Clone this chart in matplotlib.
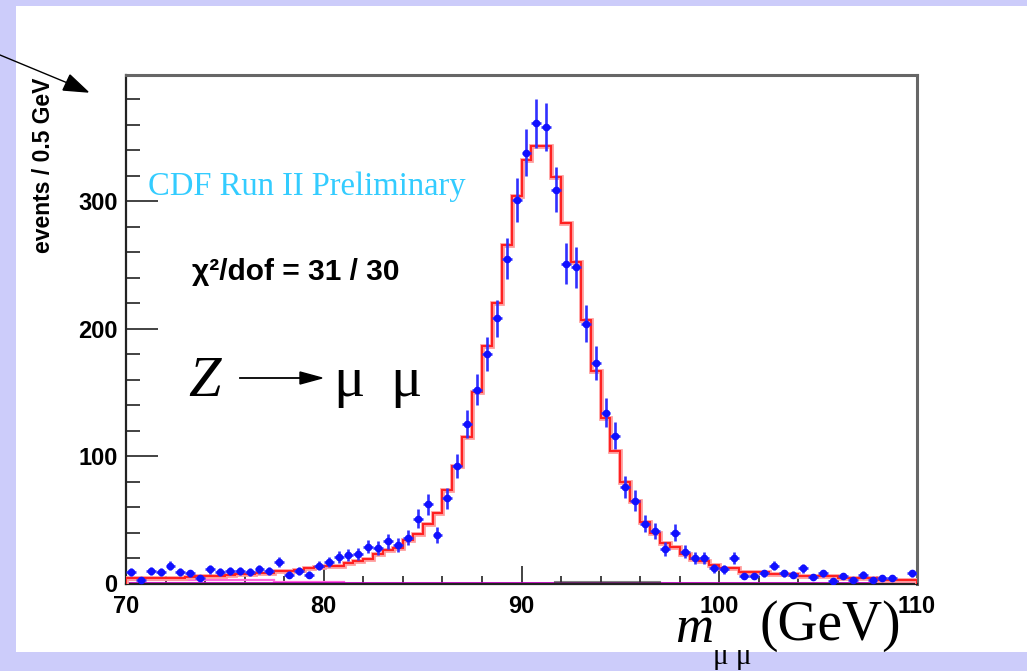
import numpy as np
import matplotlib
matplotlib.use("Agg")
import matplotlib.pyplot as plt
from matplotlib.patches import Rectangle

# Dimuon invariant mass, 0.5 GeV bins from 70 to 110 GeV
bin_edges = np.arange(70.0, 110.0 + 0.25, 0.5)
data_counts = [9, 3, 10, 9, 14, 9, 8, 4, 11, 9,
               10, 10, 9, 11, 10, 17, 7, 10, 7, 14,
               17, 21, 22, 23, 29, 28, 33, 30, 36, 51,
               62, 38, 67, 92, 125, 152, 180, 208, 255, 301,
               338, 361, 358, 309, 251, 248, 204, 173, 134, 116,
               76, 65, 47, 41, 27, 40, 25, 20, 20, 12,
               11, 20, 6, 6, 8, 14, 8, 7, 12, 5,
               8, 2, 6, 3, 7, 3, 4, 4, 0, 8]
fit_counts = [4.5, 4.5, 4.5, 4.5, 4.5, 4.5, 5, 6, 6, 6,
              6.5, 7.5, 7.5, 8, 8, 10, 10, 10.5, 12, 13,
              13.5, 14, 16, 18, 19, 23.5, 26, 28, 34, 39,
              47, 55.5, 73, 92, 115, 150, 186, 220, 266, 304,
              332, 343, 343, 319, 283, 252, 207, 167, 130, 104,
              80, 65, 48, 40, 32, 29, 23, 19, 18, 14.5,
              12, 12, 9, 9, 9, 7.5, 7.5, 7.5, 6, 6,
              6, 6, 4, 4, 4, 4, 3, 3, 3, 3]
bkg_counts = [2.5] * 15 + [1.0] * 7 + [0.0] * 58

x_ticks = [70, 80, 90, 100, 110]
y_ticks = [0, 100, 200, 300]

W, H = 1027, 671
fig = plt.figure(figsize=(W / 100, H / 100), dpi=100)
fig.patch.set_facecolor("#ccccfa")


def fx(px):
    return px / W


def fy(py):
    return 1 - py / H


# white slide panel
fig.add_artist(Rectangle((fx(16), fy(652)), 1.0, fy(6) - fy(652),
                         transform=fig.transFigure, facecolor="white",
                         edgecolor="none", zorder=0))

ax = fig.add_axes([fx(126), fy(583.5), fx(917) - fx(126), fy(75) - fy(583.5)])
ax.set_facecolor("white")
ax.set_xlim(70, 110)
ax.set_ylim(0, 399)

centers = 0.5 * (bin_edges[:-1] + bin_edges[1:])
data = np.array(data_counts, dtype=float)
fit = np.array(fit_counts, dtype=float)
bkg = np.array(bkg_counts, dtype=float)

# background template and fitted shape
ax.stairs(bkg, bin_edges, color="#ff66dd", lw=1.6, zorder=2)
ax.plot([70, 110], [0.6, 0.6], color="#cc00cc", lw=2.0, zorder=2, clip_on=False)
ax.plot([91.7, 97.0], [0.9, 0.9], color="#333333", lw=1.5, alpha=0.6, zorder=2)
ax.stairs(fit, bin_edges, color="#ff9a9a", lw=3.4, zorder=3)
ax.stairs(fit, bin_edges, color="#ff1e1e", lw=1.4, zorder=4)

mask = data > 0
ax.errorbar(centers[mask], data[mask], yerr=np.sqrt(data[mask]), xerr=0.25,
            fmt="o", ms=4.5, color="#1010ff", ecolor="#3030ff", elinewidth=1.9,
            capsize=0, zorder=5)

ax.set_xticks(x_ticks)
ax.set_xticks(np.arange(70, 110.1, 2), minor=True)
ax.set_yticks(y_ticks)
ax.set_yticks(np.arange(0, 399, 20), minor=True)
ax.tick_params(axis="both", which="both", direction="in", top=False, right=False,
               color="#222222", width=1.2)
ax.tick_params(axis="y", which="major", length=23, pad=6)
ax.tick_params(axis="y", which="minor", length=10)
ax.tick_params(axis="x", which="major", length=13, pad=8)
ax.tick_params(axis="x", which="minor", length=6)
for lab in ax.get_xticklabels() + ax.get_yticklabels():
    lab.set_fontfamily("Liberation Sans")
    lab.set_fontweight("bold")
    lab.set_fontsize(17)
for side in ("left", "bottom"):
    ax.spines[side].set_color("#222222")
    ax.spines[side].set_linewidth(1.6)
for side in ("top", "right"):
    ax.spines[side].set_color("#666666")
    ax.spines[side].set_linewidth(2.2)

fig.text(fx(44), fy(78), "events / 0.5 GeV", rotation=90, ha="center", va="top",
         fontfamily="Liberation Sans", fontweight="bold", fontsize=16.5)

fig.text(fx(148), fy(187), "CDF Run II Preliminary", ha="left", va="center",
         fontfamily="Liberation Serif", fontsize=23.5, color="#33ccff")

fig.text(fx(192), fy(272), "\u03c7\u00b2/dof = 31 / 30", ha="left", va="center",
         fontfamily="Liberation Sans", fontweight="bold", fontsize=21.5)

fig.text(fx(188), fy(396), "Z", ha="left", va="baseline",
         fontfamily="Liberation Serif", fontstyle="italic", fontsize=42)
fig.add_artist(plt.Line2D([fx(240), fx(305)], [fy(378), fy(378)],
                          transform=fig.transFigure, color="black", lw=1.3))
fig.patches.append(plt.Polygon([[fx(322), fy(378)], [fx(300), fy(372)], [fx(300), fy(384)]],
                               closed=True, transform=fig.transFigure,
                               facecolor="black", edgecolor="black"))
fig.text(fx(333), fy(396), "\u03bc", ha="left", va="baseline",
         fontfamily="Liberation Serif", fontsize=42)
fig.text(fx(390), fy(396), "\u03bc", ha="left", va="baseline",
         fontfamily="Liberation Serif", fontsize=42)

fig.text(fx(675), fy(642), "m", ha="left", va="baseline",
         fontfamily="Liberation Serif", fontstyle="italic", fontsize=38)
fig.text(fx(760), fy(640), "(GeV)", ha="left", va="baseline",
         fontfamily="Liberation Serif", fontsize=40)
fig.text(fx(713), fy(664), "\u03bc \u03bc", ha="left", va="baseline",
         fontfamily="Liberation Serif", fontsize=21)

# pointer arrow in the upper-left corner
fig.add_artist(plt.Line2D([fx(0), fx(70)], [fy(55), fy(84)],
                          transform=fig.transFigure, color="black", lw=1.0))
fig.patches.append(plt.Polygon([[fx(88), fy(92)], [fx(63), fy(90)], [fx(70), fy(75)]],
                               closed=True, transform=fig.transFigure,
                               facecolor="black", edgecolor="black"))

fig.savefig("out.png", dpi=100, facecolor=fig.get_facecolor())
